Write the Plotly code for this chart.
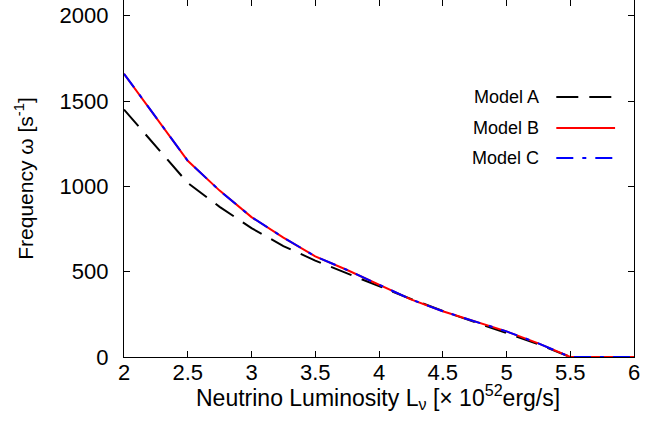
import plotly.graph_objects as go

# Data
lum = [2.0, 2.25, 2.5, 2.75, 3.0, 3.25, 3.5, 3.75, 4.0, 4.25, 4.5, 4.75, 5.0, 5.25, 5.5, 5.75, 6.0]
model_a = [1450, 1233, 1020, 880, 755, 650, 565, 490, 415, 340, 270, 205, 140, 75, 0, 0, 0]
model_b = [1660, 1405, 1150, 975, 820, 700, 590, 510, 425, 338, 268, 210, 150, 80, 0, 0, 0]
model_c = [1660, 1405, 1150, 975, 820, 700, 590, 510, 425, 338, 268, 210, 150, 80, 0, 0, 0]
names = ["Model A", "Model B", "Model C"]
colors = ["black", "#ff0000", "#0000ff"]
dashes = ["22px,11px", "solid", "17px,9px,4px,9px"]
xticks = [2, 2.5, 3, 3.5, 4, 4.5, 5, 5.5, 6]
xticklabels = ["2", "2.5", "3", "3.5", "4", "4.5", "5", "5.5", "6"]
yticks = [0, 500, 1000, 1500, 2000]

FONT = "Liberation Sans, Arial, Helvetica, sans-serif"

fig = go.Figure()
for name, ys, col, dsh in zip(names, [model_a, model_b, model_c], colors, dashes):
    fig.add_trace(go.Scatter(x=lum, y=ys, mode="lines", name=name,
                             line=dict(color=col, width=2, dash=dsh),
                             showlegend=False))

# top mirror ticks (no top border line)
fig.add_trace(go.Scatter(x=[2, 6], y=[0, 0], xaxis="x2", mode="lines",
                         line=dict(width=0), hoverinfo="skip", showlegend=False))

fig.update_layout(
    width=663, height=427,
    margin=dict(l=124, r=29, t=0, b=70),
    paper_bgcolor="white", plot_bgcolor="white",
    font=dict(family=FONT, size=22, color="black"),
    xaxis=dict(range=[2, 6], tickvals=xticks, ticktext=xticklabels,
               ticks="inside", ticklen=6, tickwidth=1, tickcolor="black",
               showline=True, linecolor="black", linewidth=1.3, mirror=False,
               showgrid=False, zeroline=False,
               tickfont=dict(size=22), ticklabelstandoff=-5),
    xaxis2=dict(range=[2, 6], overlaying="x", side="top", tickvals=xticks,
                ticks="inside", ticklen=6, tickwidth=1, tickcolor="black",
                showticklabels=False, showline=False, showgrid=False, zeroline=False),
    yaxis=dict(range=[0, 2092], tickvals=yticks,
               ticks="inside", ticklen=6, tickwidth=1, tickcolor="black",
               showline=True, linecolor="black", linewidth=1.3, mirror="ticks",
               showgrid=False, zeroline=False,
               tickfont=dict(size=22), ticklabelstandoff=10,
               title=dict(text="Frequency ω [s<sup>-1</sup>]", font=dict(size=21), standoff=20)),
)

# x-axis title
fig.add_annotation(xref="paper", yref="paper", x=(379 - 124) / 512, y=(357 - 397) / 357,
                   text="Neutrino Luminosity L<sub>ν</sub> [× 10<sup>52</sup>erg/s]",
                   showarrow=False, xanchor="center", yanchor="middle",
                   font=dict(size=23, family=FONT, color="black"))

# Legend: text on the left, line sample on the right (as in the original)
leg_y = [97, 128, 158]
for name, col, dsh, py in zip(names, colors, dashes, leg_y):
    yp = (357 - py) / 357
    fig.add_annotation(xref="paper", yref="paper", x=(543 - 124) / 512, y=yp,
                       text=name, showarrow=False, xanchor="right", yanchor="middle",
                       font=dict(size=18, family=FONT, color="black"))
    fig.add_shape(type="line", xref="paper", yref="paper",
                  x0=(558 - 124) / 512, x1=(617 - 124) / 512, y0=yp, y1=yp,
                  line=dict(color=col, width=2, dash=dsh))

fig.write_html("out.html")
